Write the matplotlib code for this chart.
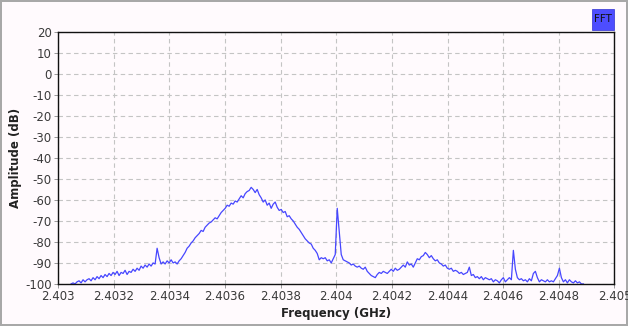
"""FFT spectrum around 2.4037 GHz"""
import matplotlib
matplotlib.use("Agg")
import matplotlib.pyplot as plt
import numpy as np
from matplotlib.patches import Rectangle

plt.rcParams["axes.unicode_minus"] = False

# amplitude (dB) per FFT bin
amp_db = [
    -100, -99.5, -100, -99, -98.5, -99.5, -98, -99, -98, -97.5, -98.5, -97, -98, -96.5, -97.5, -96,
    -97, -95.5, -96.5, -95, -96, -94.5, -95.5, -94, -96, -94.5, -95, -93.5, -95.5, -94, -94.5, -93,
    -94, -92.5, -93.5, -91.5, -92.5, -91, -92, -90.5, -91.5, -90, -90.5, -83, -87.5, -90.5, -89.5, -90.5,
    -89, -90, -88.5, -90, -89.5, -90.5, -89, -88, -86.5, -85, -83, -82, -80.5, -79.5, -78, -77,
    -76, -74.5, -75, -73, -72, -71, -70.5, -69.5, -68.5, -69, -67.5, -66, -65, -64, -62.5, -63,
    -61.5, -62, -60.5, -61, -59.5, -58, -59, -57, -56, -55.5, -54, -55, -56.5, -55, -57.5, -59,
    -61, -60, -62.5, -61.5, -64, -62, -61, -63.5, -65, -64.5, -66, -65.5, -68, -67.5, -69, -70,
    -71.5, -73, -74, -75.5, -77, -78.5, -79.5, -80.5, -81, -83, -84, -85.5, -88.5, -87.5, -88, -87.5,
    -89, -88.5, -90, -88, -86, -64, -75, -86, -88.5, -89, -89.5, -90, -91, -90.5, -91.5, -92,
    -91.5, -92.5, -93, -92, -94, -95, -96, -96.5, -97, -95.5, -94.5, -95, -94, -94.5, -95, -94,
    -93, -94, -92.5, -93.5, -93, -92, -91, -92, -89.5, -91, -90.5, -92, -90, -88, -88.5, -87,
    -86.5, -85, -86, -87.5, -86.5, -88, -89, -88.5, -90, -90.5, -91.5, -91, -92.5, -93, -92.5, -94,
    -93.5, -94, -95, -94.5, -95.5, -95, -94.5, -92, -96, -95.5, -97, -96.5, -97.5, -96.5, -98, -97,
    -97.5, -98, -97.5, -99, -98, -98.5, -99.5, -98, -97, -99, -98, -97, -98, -84, -93, -97,
    -98, -97.5, -98.5, -98, -99, -97.5, -98.5, -95, -94, -97, -99, -98, -98.5, -99, -98, -99,
    -98.5, -99, -97.5, -96, -92.5, -97, -99, -98, -99.5, -98, -99, -99.5, -98.5, -99.5, -99, -100,
    -100,
]
f_start, f_stop = 2.4030468, 2.4048885   # first / last bin (GHz)
freq = np.linspace(f_start, f_stop, len(amp_db))

x_ticks = [2.403, 2.4032, 2.4034, 2.4036, 2.4038, 2.404, 2.4042, 2.4044, 2.4046, 2.4048, 2.405]
x_tick_labels = ["2.403", "2.4032", "2.4034", "2.4036", "2.4038", "2.404",
                 "2.4042", "2.4044", "2.4046", "2.4048", "2.405"]
y_ticks = list(range(-100, 21, 10))

BG = "#fffafd"
LINE = "#4646ff"

fig = plt.figure(figsize=(6.28, 3.26), dpi=100, facecolor=BG)
fig.patch.set_edgecolor("#a8a8a8")
fig.patch.set_linewidth(1.5)
ax = fig.add_axes([0.0924, 0.129, 0.886, 0.773])
ax.set_facecolor(BG)

ax.plot(freq, amp_db, color=LINE, lw=0.9)

ax.set_xlim(2.403, 2.405)
ax.set_ylim(-100, 20)
ax.set_xticks(x_ticks)
ax.set_xticklabels(x_tick_labels)
ax.set_yticks(y_ticks)
ax.grid(True, color="#c4c4c4", linestyle=(0, (4, 3)), linewidth=0.8)
ax.tick_params(labelsize=8.5, labelcolor="#3a3a3a", length=3, width=0.6, color="#888888", pad=1.5)
for s in ax.spines.values():
    s.set_color("#111111")
    s.set_linewidth(1.0)

ax.set_xlabel("Frequency (GHz)", fontsize=8.5, fontweight="bold", color="#222222", labelpad=3)
ax.set_ylabel("Amplitude (dB)", fontsize=8.5, fontweight="bold", color="#222222", labelpad=2)

# legend chip, top right
fig.patches.append(Rectangle((592 / 628, 1 - 30 / 326), 22 / 628, 21 / 326,
                             transform=fig.transFigure, facecolor="#4d4dff",
                             edgecolor="#3030d0", linewidth=0.5))
fig.text(603 / 628, 1 - 19.5 / 326, "FFT", fontsize=7.5, ha="center", va="center", color="#111111")

fig.savefig("out.png", dpi=100, facecolor=BG)
